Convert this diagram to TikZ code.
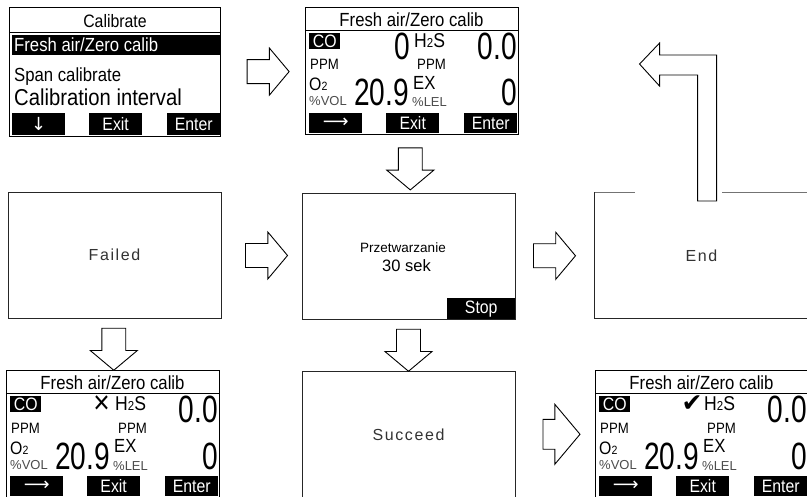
\documentclass[tikz,border=0pt]{standalone}
\usepackage{fontspec}
\setmainfont{Liberation Sans}
\newfontfamily\lcdfont[FakeStretch=0.88]{Liberation Sans}
\newfontfamily\digfont[FakeStretch=0.74]{Liberation Sans}
\newfontfamily\wideltr[LetterSpace=10]{Liberation Sans}
\newfontfamily\symfont{DejaVu Sans}
\usetikzlibrary{positioning,calc,shapes.arrows}
\newcommand{\fs}[1]{\fontsize{#1}{#1}\selectfont}

% one gas reading screen: name, x, y, mark style, mark, mark position
\newcommand{\gasscreen}[6]{%
  \begin{scope}[shift={(#2,#3)}]
    \node[scrframe] (#1) at (0,0) {};
    \draw[line width=0.8pt] (0,23) -- (213,23);
    \node[lcd=19,anchor=base] (#1-ttl) at (106.5,20) {Fresh air/Zero calib};
    \node[inv,anchor=north west,minimum width=31pt,minimum height=16pt,font=\lcdfont\fs{18}] (#1-co) at (4,26) {CO};
    \node[#4] (#1-mk) at (#6) {#5};
    \node[lcd=20,anchor=base west] (#1-hs) at (109,41) {H{\fs{13}2}S};
    \node[bigdig,anchor=base east] (#1-hsv) at (212,53) {0.0};
    \node[lcd=15,anchor=base west] (#1-ppa) at (5,63) {PPM};
    \node[lcd=15,anchor=base west] (#1-ppb) at (112,63) {PPM};
    \node[lcd=18,anchor=base west] (#1-ox) at (4,84) {O{\fs{12}2}};
    \node[faint,anchor=base west] (#1-vol) at (4,99) {\%VOL};
    \node[bigdig,anchor=base east] (#1-oxv) at (104,99) {20.9};
    \node[lcd=19,anchor=base west] (#1-ex) at (108,83) {EX};
    \node[faint,anchor=base west] (#1-lel) at (107,100) {\%LEL};
    \node[bigdig,anchor=base east] (#1-exv) at (212,99) {0};
    \node[softkey] (#1-k1) at (4,106) {\symfont ⟶};
    \node[softkey] (#1-k2) at (81,106) {Exit};
    \node[softkey] (#1-k3) at (159,106) {Enter};
  \end{scope}}

\begin{document}
\begin{tikzpicture}[x=1pt,y=-1pt,
  scrframe/.style={draw,line width=1.2pt,anchor=north west,inner sep=0pt,minimum width=213pt,minimum height=127pt},
  box/.style={draw=black!85,line width=0.9pt,inner sep=0pt,minimum width=213pt,minimum height=126pt},
  softkey/.style={fill=black,text=white,anchor=north west,inner sep=0pt,minimum width=53pt,minimum height=20pt,font=\lcdfont\fs{18}},
  inv/.style={fill=black,text=white,inner sep=0pt},
  lcd/.style={inner sep=0pt,font=\lcdfont\fs{#1}},
  bigdig/.style={inner sep=0pt,font=\digfont\fs{38}},
  faint/.style={inner sep=0pt,text=black!70,font=\fs{13}},
  msg/.style={font=\wideltr\fs{16},text=black!80},
  blockarrow/.style={single arrow,draw,fill=white,line width=0.9pt,inner xsep=0pt,inner ysep=10.5pt,minimum height=42pt,minimum width=47pt,single arrow head extend=10.5pt,single arrow tip angle=100}]
\clip (0,0) rectangle (807,497);
\fill[white] (0,0) rectangle (807,497);

% calibrate menu
\node[scrframe,minimum width=211pt,minimum height=129pt] (calib) at (9,7) {};
\node[lcd=18,anchor=base] (calib-ttl) at (115,28) {Calibrate};
\draw[line width=0.8pt] (9,32) -- (220,32);
\node[inv,anchor=north west,minimum width=208pt,minimum height=20pt] (calib-sel) at (12,35) {};
\node[lcd=19,text=white,anchor=base west] (calib-selt) at (14,52) {Fresh air/Zero calib};
\node[lcd=19,anchor=base west] (calib-span) at (14,82) {Span calibrate};
\node[lcd=23,anchor=base west] (calib-int) at (14,106) {Calibration interval};
\node[softkey,minimum height=22pt] (calib-k1) at (12,113) {\symfont ↓};
\node[softkey,minimum height=22pt] (calib-k2) at (89,113) {Exit};
\node[softkey,minimum height=22pt] (calib-k3) at (167,113) {Enter};

% reading screens
\gasscreen{gas}{305}{7}{bigdig,anchor=base east}{0}{105,53}
\gasscreen{fscr}{6}{370}{lcd=32,anchor=center}{×}{95.5,35}
\gasscreen{sscr}{595}{370}{lcd=25,anchor=center}{\symfont ✔}{97,33.5}

% state boxes
\node[box,msg] (failed) at (114.5,255) {Failed};
\node[box] (proc) at (408.5,256) {};
\node[inner sep=0pt,anchor=base,font=\fs{13.5}] (proc-l1) at (403,253) {Przetwarzanie};
\node[inner sep=0pt,anchor=base,font=\fs{16.5}] (proc-l2) at (406.5,272) {30 sek};
\node[inv,anchor=south east,minimum width=68pt,minimum height=21pt,font=\lcdfont\fs{18}] (stop) at (proc.south east) {Stop};
\node[box,draw=none,msg] (endbox) at (701.5,255.5) {End};
\draw[black!85,line width=0.9pt] (endbox.north west) -- (endbox.south west) -- (endbox.south east);
\draw[black!55,line width=0.9pt] (endbox.north west) -- ++(40,0);
\draw[black!55,line width=0.9pt] (endbox.north east) -- ++(-86,0);
\node[box,msg,anchor=north] (succ) at (408.5,371) {Succeed};

% block arrows
\node[blockarrow] (a1) at ($(calib.east)!0.5!(gas.west)$) {};
\node[blockarrow,rotate=-90] (a2) at ($(gas.south)!0.5!(proc.north)$) {};
\node[blockarrow] (a3) at ($(failed.east)!0.5!(proc.west)$) {};
\node[blockarrow] (a4) at ($(proc.east)!0.43!(endbox.west)$) {};
\node[blockarrow,rotate=-90] (a5) at ($(failed.south)!0.5!(fscr.north)$) {};
\node[blockarrow,rotate=-90] (a6) at ($(proc.south)!0.5!(succ.north)$) {};
\node[blockarrow,minimum width=60pt,minimum height=37pt,inner ysep=9pt,single arrow head extend=9.5pt] (a7) at ($(succ.east)!0.5!(sscr.west)$) {};
\draw[line width=0.9pt,fill=white] ($(endbox.north west)+(103,9)$) -- ++(19,0) -- ++(0,-146) -- ++(-57,0) -- ++(0,-12) -- ++(-20,21) -- ++(20,22) -- ++(0,-11) -- ++(38,0) -- cycle;
\end{tikzpicture}
\end{document}
